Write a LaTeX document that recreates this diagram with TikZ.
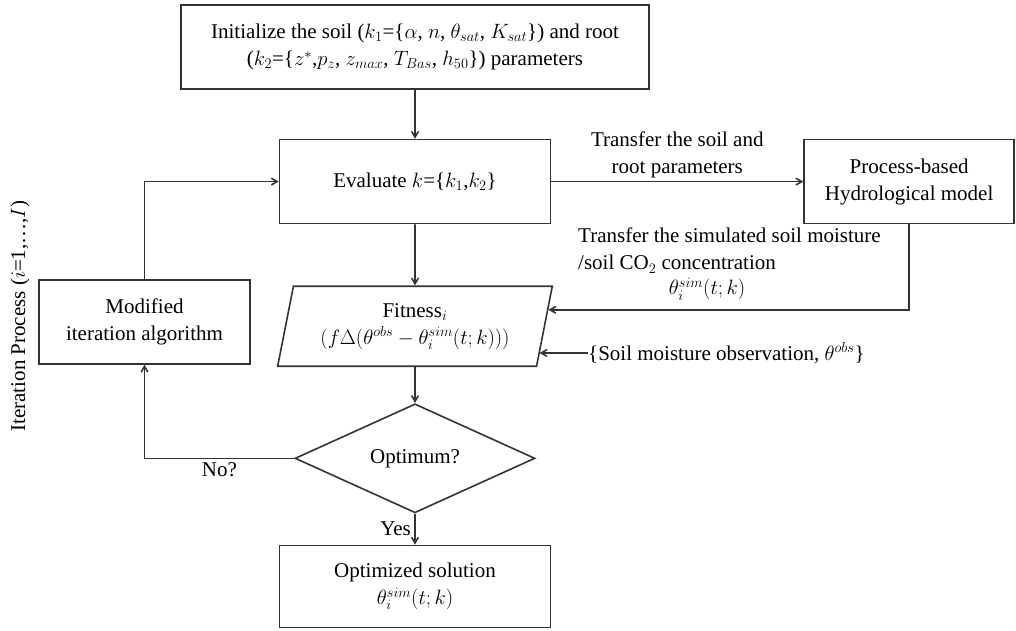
\documentclass[tikz,border=0pt]{standalone}
\usepackage{amsmath,amssymb}
\usepackage{fontspec}
\setmainfont{Liberation Serif}
\usepackage{tikz}
\usetikzlibrary{arrows,shapes}
\usetikzlibrary{positioning}

\begin{document}
\begin{tikzpicture}[x=1pt, y=-1pt, node distance=0.25cm, font=\fontsize{21}{27}\selectfont, >=angle 60]
\tikzstyle{block} = [rectangle, draw = black!80, line width=1.6pt, align=center, inner sep=2pt]
\tikzstyle{fitbox} = [trapezium, trapezium left angle=76, trapezium right angle=104, trapezium stretches=true, draw = black!80, line width=1.6pt, align=center, inner sep=2pt]
\tikzstyle{decide} = [diamond, aspect=2.2, draw = black!80, line width=1.6pt, inner sep=0pt]
\tikzstyle{line} = [->, draw = black!80, line width=1.6pt]
\useasboundingbox (0,0) rectangle (1016,630);
\node (init) [block, minimum width=468pt, minimum height=84pt] at (415,47) {Initialize the soil ($k_1$=\{$\alpha$, $n$, $\theta_{sat}$, $K_{sat}$\}) and root\\($k_2$=\{$z^{*}$,$p_z$, $z_{max}$, $T_{Bas}$, $h_{50}$\}) parameters};
\node (eval) [block, minimum width=271pt, minimum height=84pt, below = 49pt of init] {Evaluate $k$=\{$k_1$,$k_2$\}};
\node (proc) [block, minimum width=210pt, minimum height=84pt, right = 252pt of eval] {Process-based\\Hydrological model};
\node (fit) [fitbox, minimum width=275pt, minimum height=80pt, below = 61pt of eval] {Fitness$_i$\\$(f\Delta(\theta^{obs}-\theta_i^{sim}(t;k)))$};
\node (dia) [decide, minimum width=240pt, minimum height=109pt, below = 36pt of fit] {Optimum?};
\node (opt) [block, minimum width=271pt, minimum height=82pt, below = 31pt of dia] {Optimized solution\\$\theta_i^{sim}(t;k)$};
\node (mod) [block, minimum width=211pt, minimum height=84pt] at (144.5,322) {Modified\\iteration algorithm};
\node (iter) [rotate=90] at (20,316) {Iteration Process ($i$=1,\ldots,$I$)};
\node (simtxt) [anchor=north west, align=left, inner sep=0pt] at (578,228) {Transfer the simulated soil moisture\\/soil CO$_2$ concentration};
\node (simval) at (707,289) {$\theta_i^{sim}(t;k)$};
\node (obs) [anchor=west, inner sep=0pt] at (588,353) {\{Soil moisture observation, $\theta^{obs}$\}};
% flow
\draw [line] (init) -- (eval);
\draw [line] (eval) -- (proc) node [midway, above, align=center] {Transfer the soil and\\root parameters};
\draw [line] (proc.south) |- (fit.7.4);
\draw [line] (obs.west) -- (obs.west -| fit.-13.5);
\draw [line] (eval) -- (fit);
\draw [line] (fit) -- (dia);
\draw [line] (dia) -- (opt) node [midway, left] {Yes};
\draw [line] (dia.west) -| (mod.south) node [pos=0.25, below] {No?};
\draw [line] (mod.north) |- (eval.west);
\end{tikzpicture}
\end{document}
